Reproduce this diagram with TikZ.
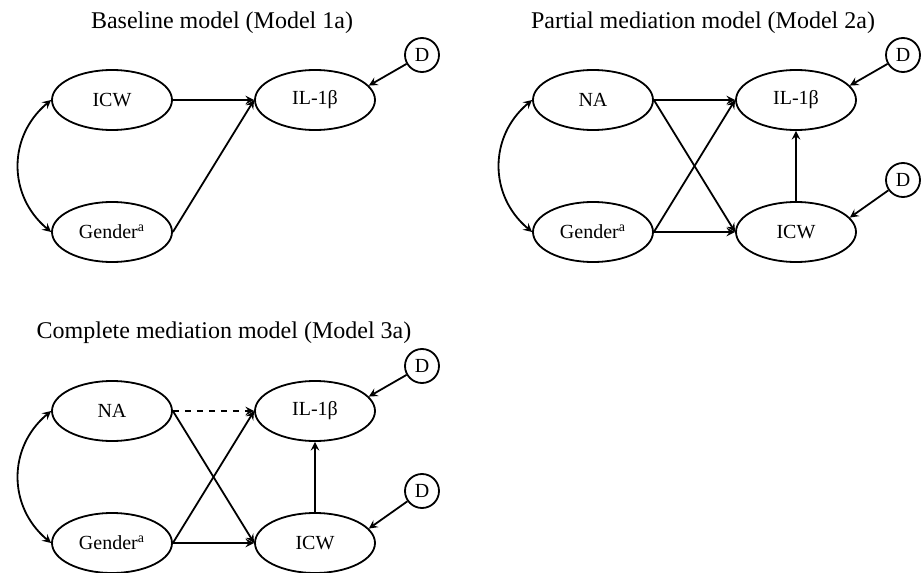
\documentclass[tikz,border=0pt]{standalone}
\usepackage{fontspec}
\setmainfont{Liberation Serif}
\usetikzlibrary{shapes.geometric}
\begin{document}
\begin{tikzpicture}[x=0.5pt,y=0.5pt,
    latent/.style={ellipse,draw,line width=0.9pt,minimum width=60pt,minimum height=30pt,inner sep=0pt,font=\fontsize{10}{12}\selectfont},
    dist/.style={circle,draw,line width=0.9pt,minimum size=17pt,inner sep=0pt,font=\fontsize{10}{12}\selectfont},
    title/.style={font=\fontsize{12}{14}\selectfont},
    effect/.style={-stealth,line width=0.9pt},
    covar/.style={stealth-stealth,line width=0.9pt,out=220,in=140,looseness=1.1}]
    \useasboundingbox (0,0) rectangle (923,-573);
    % Model 1a
    \node[title] (t1) at (222,-23) {Baseline model (Model 1a)};
    \node[latent] (icw1) at (112,-100) {ICW};
    \node[latent] (il1) at (315,-100) {IL-1β};
    \node[latent] (gen1) at (112,-232) {Gender\textsuperscript{a}};
    \node[dist] (d1) at (422,-55) {D};
    \draw[effect] (icw1.east) -- (il1.west);
    \draw[effect] (gen1.east) -- (il1.west);
    \draw[effect] (d1) -- (il1.15);
    \draw[covar] (icw1.west) to (gen1.west);
    % Model 2a
    \node[title] (t2) at (703,-23) {Partial mediation model (Model 2a)};
    \node[latent] (na2) at (593,-100) {NA};
    \node[latent] (il2) at (796,-100) {IL-1β};
    \node[latent] (gen2) at (593,-232) {Gender\textsuperscript{a}};
    \node[latent] (icw2) at (796,-232) {ICW};
    \node[dist] (d2a) at (903,-55) {D};
    \node[dist] (d2b) at (903,-180) {D};
    \draw[effect] (na2.east) -- (il2.west);
    \draw[effect] (na2.east) -- (icw2.west);
    \draw[effect] (gen2.east) -- (il2.west);
    \draw[effect] (gen2.east) -- (icw2.west);
    \draw[effect] (icw2.north) -- (il2.south);
    \draw[effect] (d2a) -- (il2.15);
    \draw[effect] (d2b) -- (icw2.15);
    \draw[covar] (na2.west) to (gen2.west);
    % Model 3a
    \node[title] (t3) at (224,-333) {Complete mediation model (Model 3a)};
    \node[latent] (na3) at (112,-411) {NA};
    \node[latent] (il3) at (315,-411) {IL-1β};
    \node[latent] (gen3) at (112,-543) {Gender\textsuperscript{a}};
    \node[latent] (icw3) at (315,-543) {ICW};
    \node[dist] (d3a) at (422,-366) {D};
    \node[dist] (d3b) at (422,-491) {D};
    \draw[effect,dashed] (na3.east) -- (il3.west);
    \draw[effect] (na3.east) -- (icw3.west);
    \draw[effect] (gen3.east) -- (il3.west);
    \draw[effect] (gen3.east) -- (icw3.west);
    \draw[effect] (icw3.north) -- (il3.south);
    \draw[effect] (d3a) -- (il3.15);
    \draw[effect] (d3b) -- (icw3.15);
    \draw[covar] (na3.west) to (gen3.west);
\end{tikzpicture}
\end{document}
